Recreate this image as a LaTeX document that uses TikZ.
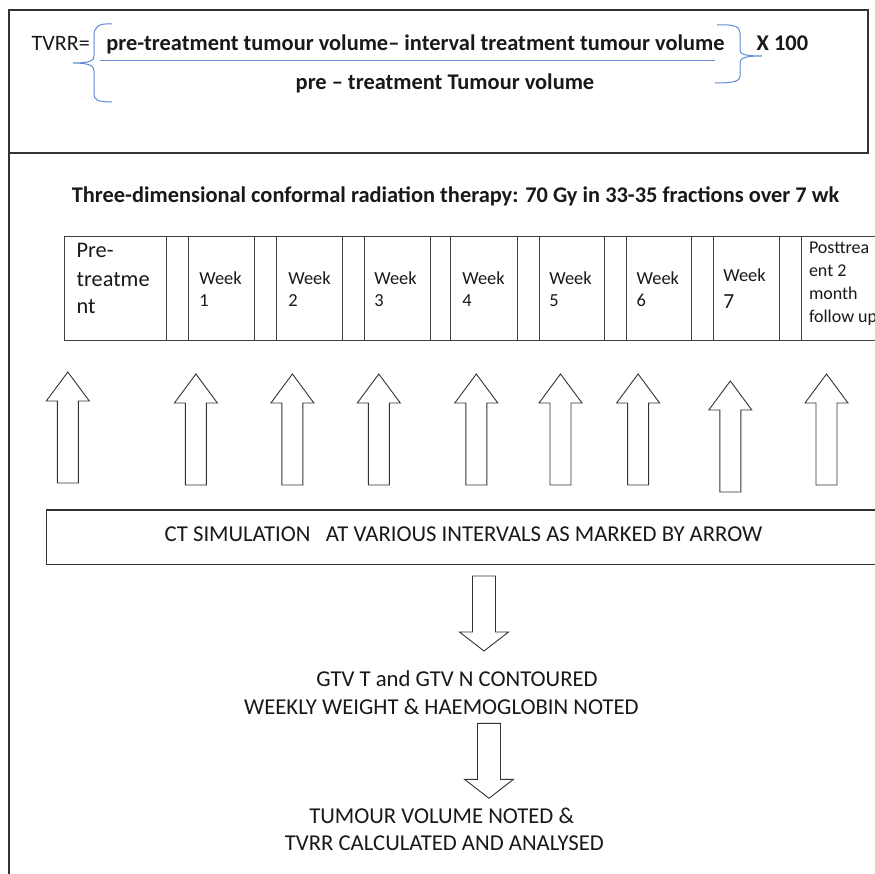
\documentclass[tikz,border=0pt]{standalone}
\usepackage{fontspec}
\setmainfont{Carlito}
\definecolor{braceblue}{RGB}{95,140,210}
\begin{document}
\begin{tikzpicture}[x=1pt,y=-1pt,
  frame/.style={draw=black!80, line width=1.1pt},
  cellline/.style={draw=black!75, line width=0.9pt},
  blockarrow/.style={draw=black!80, line width=0.9pt, fill=white, line join=miter},
  brace/.style={draw=braceblue, line width=1pt},
  txt/.style={inner sep=0pt, outer sep=0pt, text=black!90},
  fml/.style={txt, font=\fontsize{22}{26}\selectfont},
  fmlb/.style={txt, font=\bfseries\fontsize{22.4}{26}\selectfont},
  title/.style={txt, font=\bfseries\fontsize{22.4}{26}\selectfont},
  pretxt/.style={txt, font=\fontsize{22.3}{26}\selectfont},
  weektxt/.style={txt, font=\fontsize{18.4}{22}\selectfont},
  sevtxt/.style={txt, font=\fontsize{21.5}{24}\selectfont},
  posttxt/.style={txt, font=\fontsize{18}{22}\selectfont},
  cttxt/.style={txt, font=\fontsize{22.7}{26}\selectfont},
  flowtxt/.style={txt, font=\fontsize{22.7}{26}\selectfont},
  uparrow/.pic={\path[blockarrow] (0,0) -- (21.5,29) -- (10.5,29) -- (10.5,111) -- (-10.5,111) -- (-10.5,29) -- (-21.5,29) -- cycle;},
  downarrow/.pic={\path[blockarrow] (0,0) -- (24.5,-19) -- (11.5,-19) -- (11.5,-75) -- (-11.5,-75) -- (-11.5,-19) -- (-24.5,-19) -- cycle;}
]
\useasboundingbox (0,0) rectangle (875,874);
\clip (0,0) rectangle (875,874);
\fill[white] (0,0) rectangle (875,874);

% frames
\draw[frame] (9,10) rectangle (868,153);
\draw[frame] (9,153) -- (9,880);

% formula
\node[fml, anchor=base west] (tvrr) at (31.7,50.7) {TVRR=};
\node[fmlb, anchor=base] (num) at (415.5,50.7) {pre-treatment tumour volume– interval treatment tumour volume};
\node[fmlb, anchor=base] (den) at (445,90) {pre – treatment Tumour volume};
\node[fmlb, anchor=base west] (x100) at (756.7,50.7) {X 100};
\draw[brace] (100,61) -- (715,61);
\draw[brace] (112,24) .. controls (98,23) and (94,27) .. (94,36) -- (94,56)
  .. controls (94,61) and (90,63) .. (73,63)
  .. controls (90,63) and (94,66) .. (94,71) -- (94,94)
  .. controls (94,100) and (98,102) .. (112,102);
\draw[brace] (717,25) .. controls (735,24) and (740,27) .. (740,33) -- (740,50)
  .. controls (740,54) and (744,56) .. (762,56)
  .. controls (744,56) and (740,58) .. (740,63) -- (740,76)
  .. controls (740,81) and (735,83) .. (715,83);

% title
\node[title, anchor=base] (ttl) at (455.5,202.3) {Three-dimensional conformal radiation therapy: 70 Gy in 33-35 fractions over 7 wk};

% table
\draw[cellline] (64.3,236) rectangle (890,340.5);
\foreach \x in {166,188.3,254.3,276.3,342.3,364.3,430,450.7,517.3,539.3,604,626,691.7,713.7,779,801}
  \draw[cellline] (\x,236) -- (\x,340.5);

\node[pretxt, anchor=base west] (pre1) at (76.7,257.3) {Pre-};
\node[pretxt, anchor=base west] (pre2) at (76.7,286.2) {treatme};
\node[pretxt, anchor=base west] (pre3) at (76.7,314) {nt};

\node[weektxt, anchor=base west] (w1a) at (199.3,285) {Week};
\node[weektxt, anchor=base west] (w1b) at (199.3,306.7) {1};
\node[weektxt, anchor=base west] (w2a) at (288.3,285) {Week};
\node[weektxt, anchor=base west] (w2b) at (288.3,306.7) {2};
\node[weektxt, anchor=base west] (w3a) at (374.3,285) {Week};
\node[weektxt, anchor=base west] (w3b) at (374.3,306.7) {3};
\node[weektxt, anchor=base west] (w4a) at (462.3,285) {Week};
\node[weektxt, anchor=base west] (w4b) at (462.3,306.7) {4};
\node[weektxt, anchor=base west] (w5a) at (549.3,285) {Week};
\node[weektxt, anchor=base west] (w5b) at (549.3,306.7) {5};
\node[weektxt, anchor=base west] (w6a) at (636.7,285) {Week};
\node[weektxt, anchor=base west] (w6b) at (636.7,306.7) {6};
\node[weektxt, anchor=base west] (w7a) at (723.3,281.7) {Week};
\node[sevtxt, anchor=base west] (w7b) at (723.3,308.3) {7};

\node[posttxt, anchor=base west] (p1) at (809,253.3) {Posttrea};
\node[posttxt, anchor=base west] (p2) at (809,276.7) {ent 2};
\node[posttxt, anchor=base west] (p3) at (809,300) {month};
\node[posttxt, anchor=base west] (p4) at (809,322.3) {follow up};

% up arrows
\pic (a1) at (67.8,372) {uparrow};
\pic (a2) at (195.9,374) {uparrow};
\pic (a3) at (292.4,374) {uparrow};
\pic (a4) at (378.8,374) {uparrow};
\pic (a5) at (476.3,374) {uparrow};
\pic (a6) at (560.5,374) {uparrow};
\pic (a7) at (638.1,374) {uparrow};
\pic (a8) at (730.3,381) {uparrow};
\pic (a9) at (826.5,374) {uparrow};

% CT box
\draw[frame] (46.3,510) rectangle (890,564.3);
\node[cttxt, anchor=base] (ct) at (463.5,541) {CT SIMULATION\ \ \ AT VARIOUS INTERVALS AS MARKED BY ARROW};

% down arrows
\pic (d1) at (484,651) {downarrow};
\node[flowtxt, anchor=base] (gtv) at (457,686.7) {GTV T and GTV N CONTOURED};
\node[flowtxt, anchor=base] (wk) at (441.4,714) {WEEKLY WEIGHT \& HAEMOGLOBIN NOTED};
\pic (d2) at (489,798.3) {downarrow};
\node[flowtxt, anchor=base] (tv) at (441.7,823.3) {TUMOUR VOLUME NOTED \&};
\node[flowtxt, anchor=base] (calc) at (444.4,850.7) {TVRR CALCULATED AND ANALYSED};
\end{tikzpicture}
\end{document}
